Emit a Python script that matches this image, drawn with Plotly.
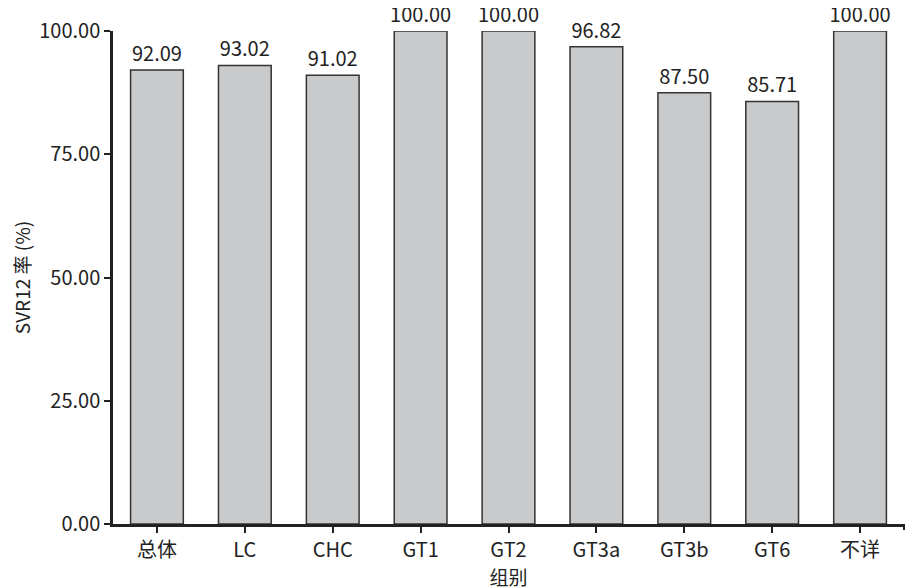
import plotly.graph_objects as go

categories = ["总体", "LC", "CHC", "GT1", "GT2", "GT3a", "GT3b", "GT6", "不详"]
values = [92.09, 93.02, 91.02, 100.00, 100.00, 96.82, 87.50, 85.71, 100.00]
y_ticks = [0, 25, 50, 75, 100]

FONT = "Noto Sans CJK SC"

fig = go.Figure(go.Bar(
    x=categories, y=values,
    width=0.6,
    marker=dict(color="#c9cacc", line=dict(color="#333333", width=1.5)),
    text=[f"{v:.2f}" for v in values],
    textposition="outside",
    constraintext="none",
    cliponaxis=False,
    textfont=dict(family=FONT, size=20, color="#222"),
))

# page body has an 8px margin, so the margins are shifted accordingly
fig.update_layout(
    width=922, height=587,
    margin=dict(l=105, r=26, t=23, b=71, autoexpand=False),
    plot_bgcolor="white", paper_bgcolor="white",
    font=dict(family=FONT, size=20, color="#222"),
    showlegend=False,
    shapes=[dict(type="line", xref="paper", x0=1, x1=1,
                 yref="paper", ysizemode="pixel", yanchor=0, y0=0, y1=-6,
                 line=dict(color="#222", width=2))],
)
fig.update_xaxes(
    showline=True, linecolor="#222", linewidth=2.5,
    ticks="outside", ticklen=6, tickwidth=2, tickcolor="#222",
    tickfont=dict(family=FONT, size=20),
    title=dict(text="组别", font=dict(family=FONT, size=19), standoff=4),
    showgrid=False, zeroline=False, automargin=False,
)
fig.update_yaxes(
    range=[0, 100],
    tickvals=y_ticks, ticktext=[f"{v:.2f}" for v in y_ticks],
    showline=True, linecolor="#222", linewidth=2.5,
    ticks="outside", ticklen=6, tickwidth=2, tickcolor="#222",
    tickfont=dict(family=FONT, size=20),
    title=dict(text="SVR12 率 (%)", font=dict(family=FONT, size=19), standoff=4),
    showgrid=False, zeroline=False, automargin=False,
)
fig.write_html("out.html")
